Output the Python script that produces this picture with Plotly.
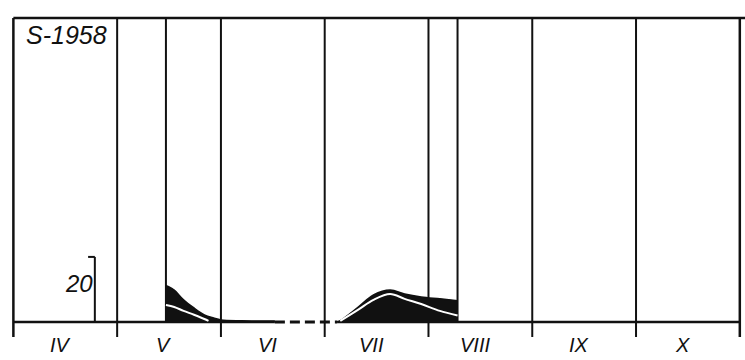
import plotly.graph_objects as go

# Months on the horizontal axis; each month spans one unit (IV = 0..1, V = 1..2, ...)
months = ["IV", "V", "VI", "VII", "VIII", "IX", "X"]
month_edges = [0, 1, 2, 3, 4, 5, 6, 7]

# Sampling period limits (fractional month position)
period_start = 1.47
period_end = 4.28

# Total catch (black area), May sampling
may_x = [1.47, 1.50, 1.55, 1.64, 1.74, 1.84, 1.93, 2.00, 2.20, 2.52]
may_total = [11.1, 10.8, 9.8, 6.8, 4.3, 2.2, 1.2, 0.6, 0.35, 0.3]
# Component curve (white line), May
may_part_x = [1.47, 1.55, 1.64, 1.74, 1.84, 1.88]
may_part = [5.2, 4.6, 3.4, 2.2, 0.9, 0.3]

# Total catch, July - August
jul_x = [3.12, 3.15, 3.32, 3.47, 3.63, 3.77, 3.93, 4.11, 4.28]
jul_total = [0.0, 0.4, 4.5, 8.3, 9.8, 8.6, 7.7, 7.1, 6.5]
jul_part_x = [3.15, 3.32, 3.47, 3.63, 3.77, 3.93, 4.11, 4.28]
jul_part = [0.3, 3.7, 6.8, 8.6, 7.1, 5.5, 3.4, 2.0]

# Interval without observations
gap = [2.52, 3.12]

scale_value = 20
station_label = "S-1958"

Y_TOP = 93.5
TICK = -4.6
INK = "#111111"

fig = go.Figure()

# Baseline: solid where observed / outside, dashed across the missing interval
fig.add_trace(go.Scatter(x=[month_edges[0], gap[0]], y=[0, 0], mode="lines",
                         line=dict(color=INK, width=2.5), hoverinfo="skip"))
fig.add_trace(go.Scatter(x=gap, y=[0, 0], mode="lines",
                         line=dict(color=INK, width=3, dash="10px,5px"), hoverinfo="skip"))
fig.add_trace(go.Scatter(x=[gap[1], month_edges[-1]], y=[0, 0], mode="lines",
                         line=dict(color=INK, width=2.5), hoverinfo="skip"))

# Black filled totals
for xs, ys in [(may_x, may_total), (jul_x, jul_total)]:
    fig.add_trace(go.Scatter(x=xs, y=ys, mode="lines", fill="tozeroy",
                             fillcolor=INK, line=dict(color=INK, width=1.5, shape="spline"),
                             hoverinfo="skip"))

# White component curves
for xs, ys in [(may_part_x, may_part), (jul_part_x, jul_part)]:
    fig.add_trace(go.Scatter(x=xs, y=ys, mode="lines",
                             line=dict(color="white", width=2, shape="spline"),
                             hoverinfo="skip"))

shapes = []
# Month boundaries, extending slightly below the baseline as ticks
for e in month_edges:
    w = 2.5 if e in (month_edges[0], month_edges[-1]) else 2
    shapes.append(dict(type="line", xref="x", yref="y", x0=e, x1=e, y0=TICK, y1=Y_TOP,
                       line=dict(color=INK, width=w), layer="below"))
# Sampling period limits
for e in (period_start, period_end):
    shapes.append(dict(type="line", xref="x", yref="y", x0=e, x1=e, y0=0, y1=Y_TOP,
                       line=dict(color=INK, width=2), layer="below"))
# Top frame line
shapes.append(dict(type="line", xref="x", yref="y", x0=0, x1=7.05, y0=Y_TOP, y1=Y_TOP,
                   line=dict(color=INK, width=2.5)))
# Vertical scale bar
shapes.append(dict(type="line", xref="x", yref="y", x0=0.785, x1=0.785, y0=0, y1=scale_value,
                   line=dict(color=INK, width=2)))
shapes.append(dict(type="line", xref="x", yref="y", x0=0.72, x1=0.785,
                   y0=scale_value, y1=scale_value, line=dict(color=INK, width=2)))

font = dict(family="Liberation Sans, Arial, sans-serif", color=INK)
annotations = []
for i, m in enumerate(months):
    annotations.append(dict(x=i + 0.45, y=-7.1, xref="x", yref="y", text=f"<i>{m}</i>",
                            showarrow=False, font=dict(size=20, **font)))
annotations.append(dict(x=0.63, y=11.8, xref="x", yref="y", text=f"<i>{scale_value}</i>",
                        showarrow=False, font=dict(size=24, **font)))
annotations.append(dict(x=0.51, y=88.2, xref="x", yref="y", text=f"<i>{station_label}</i>",
                        showarrow=False, font=dict(size=25, **font)))

fig.update_layout(
    width=745, height=360,
    margin=dict(l=3, r=0, t=13, b=0),
    paper_bgcolor="white", plot_bgcolor="white",
    showlegend=False,
    shapes=shapes, annotations=annotations,
    xaxis=dict(range=[-0.1, 7.05], visible=False, fixedrange=True),
    yaxis=dict(range=[-11.7, 95], visible=False, fixedrange=True),
)

fig.write_html("out.html")
